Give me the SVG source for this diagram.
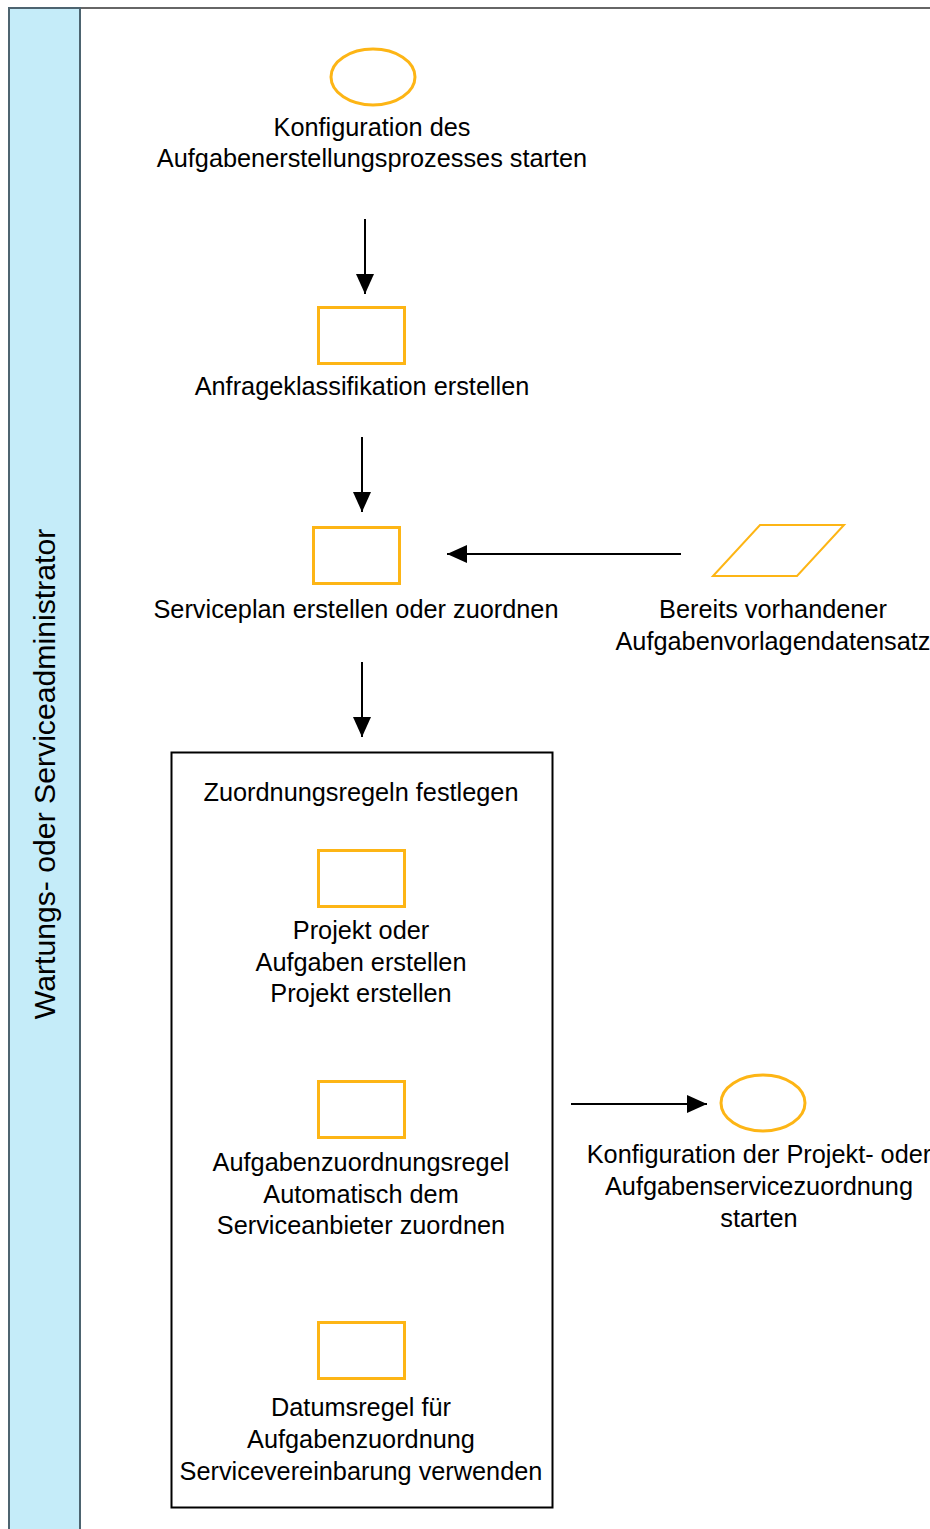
<svg xmlns="http://www.w3.org/2000/svg" width="930" height="1529" viewBox="0 0 930 1529">
  <style>
    .lbl { font-family: "Liberation Sans", Arial, sans-serif; font-size: 25.3px; fill: #000; text-anchor: middle; }
    .lane-lbl { font-size: 30.2px; }
    .shape { fill: #fff; stroke: #FDB515; stroke-width: 3; }
    .para { fill: #fff; stroke: #FDB515; stroke-width: 2; }
  </style>
  <defs>
    <marker id="arrowhead" viewBox="0 0 20 18" refX="20" refY="9" markerWidth="20" markerHeight="18" markerUnits="userSpaceOnUse" orient="auto">
      <path d="M0,0 L20,9 L0,18 z" fill="#000"/>
    </marker>
  </defs>

  <!-- swimlane -->
  <g id="lane">
    <rect x="9" y="8" width="940" height="1540" fill="#fff" stroke="#666" stroke-width="2"/>
    <rect x="9" y="8" width="71" height="1540" fill="#C5ECF9" stroke="#4d6470" stroke-width="2"/>
    <text class="lbl lane-lbl" transform="translate(55,774) rotate(-90)">Wartungs- oder Serviceadministrator</text>
  </g>

  <!-- connectors -->
  <g id="connectors" stroke="#000" stroke-width="2" fill="none">
    <line x1="365" y1="219" x2="365" y2="294" marker-end="url(#arrowhead)"/>
    <line x1="362" y1="437" x2="362" y2="512" marker-end="url(#arrowhead)"/>
    <line x1="681" y1="554" x2="447" y2="554" marker-end="url(#arrowhead)"/>
    <line x1="362" y1="662" x2="362" y2="737" marker-end="url(#arrowhead)"/>
    <line x1="571" y1="1104" x2="707" y2="1104" marker-end="url(#arrowhead)"/>
  </g>

  <g id="start">
    <ellipse class="shape" cx="373" cy="77" rx="42" ry="28"/>
    <text class="lbl" x="372" y="136">Konfiguration des</text>
    <text class="lbl" x="372" y="167">Aufgabenerstellungsprozesses starten</text>
  </g>

  <g id="anfrage">
    <rect class="shape" x="318.5" y="307.5" width="86" height="56"/>
    <text class="lbl" x="362" y="395">Anfrageklassifikation erstellen</text>
  </g>

  <g id="serviceplan">
    <rect class="shape" x="313.5" y="527.5" width="86" height="56"/>
    <text class="lbl" x="356" y="618">Serviceplan erstellen oder zuordnen</text>
  </g>

  <g id="vorlage">
    <polygon class="para" points="713,576 797,576 844,525 760,525"/>
    <text class="lbl" x="773" y="618">Bereits vorhandener</text>
    <text class="lbl" x="773" y="650">Aufgabenvorlagendatensatz</text>
  </g>

  <g id="zuordnungsregeln">
    <rect x="171.5" y="752.5" width="381" height="755" fill="#fff" stroke="#000" stroke-width="2"/>
    <text class="lbl" x="361" y="801">Zuordnungsregeln festlegen</text>
  </g>

  <g id="projekt">
    <rect class="shape" x="318.5" y="850.5" width="86" height="56"/>
    <text class="lbl" x="361" y="939">Projekt oder</text>
    <text class="lbl" x="361" y="971">Aufgaben erstellen</text>
    <text class="lbl" x="361" y="1002">Projekt erstellen</text>
  </g>

  <g id="aufgabenzuordnung">
    <rect class="shape" x="318.5" y="1081.5" width="86" height="56"/>
    <text class="lbl" x="361" y="1171">Aufgabenzuordnungsregel</text>
    <text class="lbl" x="361" y="1203">Automatisch dem</text>
    <text class="lbl" x="361" y="1234">Serviceanbieter zuordnen</text>
  </g>

  <g id="datumsregel">
    <rect class="shape" x="318.5" y="1322.5" width="86" height="56"/>
    <text class="lbl" x="361" y="1416">Datumsregel für</text>
    <text class="lbl" x="361" y="1448">Aufgabenzuordnung</text>
    <text class="lbl" x="361" y="1480">Servicevereinbarung verwenden</text>
  </g>

  <g id="end">
    <ellipse class="shape" cx="763" cy="1103" rx="42" ry="28"/>
    <text class="lbl" x="759" y="1163">Konfiguration der Projekt- oder</text>
    <text class="lbl" x="759" y="1195">Aufgabenservicezuordnung</text>
    <text class="lbl" x="759" y="1227">starten</text>
  </g>
</svg>
